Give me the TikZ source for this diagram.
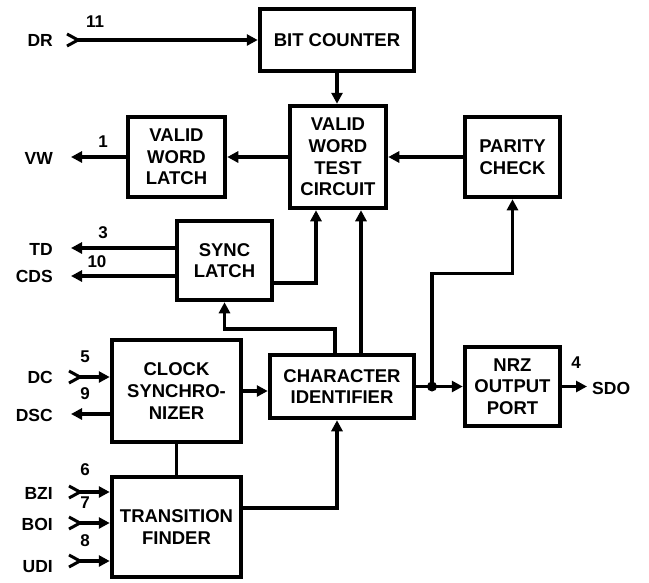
\documentclass[tikz,border=0pt]{standalone}
\usepackage{fontspec}
\setmainfont{Liberation Sans}
\usetikzlibrary{arrows.meta, positioning, calc}

\begin{document}
\begin{tikzpicture}[x=1pt, y=-1pt,
    block/.style={rectangle, draw, line width=4.5pt, font=\fontsize{18.5}{21.7}\selectfont\bfseries, align=center, inner sep=0pt},
    sig/.style={font=\fontsize{17.5}{17.5}\selectfont\bfseries, inner sep=0pt},
    pin/.style={font=\fontsize{17}{17}\selectfont\bfseries, inner sep=0pt},
    wire/.style={line width=3.5pt},
    arrow/.style={wire, -{Triangle[length=11pt, width=11pt]}},
    chev/.style={line width=3pt, line join=miter}
]
\useasboundingbox (0,0) rectangle (649,582);

% Blocks
\node[block, minimum width=154pt, minimum height=62pt] (bitcounter) at (337,40) {BIT COUNTER};
\node[block, minimum width=97pt, minimum height=80pt] (vwlatch) at (176.5,157) {VALID\\WORD\\LATCH};
\node[block, minimum width=96pt, minimum height=102pt] (vwtest) at (338,157) {VALID\\WORD\\TEST\\CIRCUIT};
\node[block, minimum width=95pt, minimum height=80pt] (parity) at (512.5,157) {PARITY\\CHECK};
\node[block, minimum width=95pt, minimum height=79pt] (sync) at (224.5,260.5) {SYNC\\LATCH};
\node[block, minimum width=144pt, minimum height=63pt] (charid) at (342,386.5) {CHARACTER\\IDENTIFIER};
\node[block, minimum width=95pt, minimum height=79pt] (nrz) at (512.5,386.5) {NRZ\\OUTPUT\\PORT};
\node[block, minimum width=129pt, minimum height=102pt] (clock) at (176.5,391) {CLOCK\\SYNCHRO-\\NIZER};
\node[block, minimum width=129pt, minimum height=100pt] (trans) at (176.5,527) {TRANSITION\\FINDER};

% Signal names
\node[sig, anchor=east] (dr) at (53,40) {DR};
\node[sig, anchor=east] (vw) at (53,158) {VW};
\node[sig, anchor=east] (td) at (53,249) {TD};
\node[sig, anchor=east] (cds) at (53,276) {CDS};
\node[sig, anchor=east] (dc) at (53,377) {DC};
\node[sig, anchor=east] (dsc) at (53,415) {DSC};
\node[sig, anchor=east] (bzi) at (53,493) {BZI};
\node[sig, anchor=east] (boi) at (53,524) {BOI};
\node[sig, anchor=east] (udi) at (53,567) {UDI};
\node[sig, anchor=west] (sdo) at (592,388) {SDO};

% Pin numbers
\node[pin] (p11) at (95,22) {11};
\node[pin] (p1) at (103,142) {1};
\node[pin] (p3) at (103,233) {3};
\node[pin] (p10) at (97,262) {10};
\node[pin] (p5) at (85,357) {5};
\node[pin] (p9) at (85,394) {9};
\node[pin] (p6) at (85,470) {6};
\node[pin] (p7) at (85,503) {7};
\node[pin] (p8) at (85,541) {8};
\node[pin] (p4) at (576,363) {4};

% Pin ends
\coordinate (drin) at (78,40);
\coordinate (dcin) at (80,377);
\coordinate (bziin) at (80,492);
\coordinate (boiin) at (80,523);
\coordinate (udiin) at (80,561);
\coordinate (vwout) at (71,157);
\coordinate (tdout) at (71,248);
\coordinate (cdsout) at (71,276);
\coordinate (dscout) at (71,414);
\coordinate (sdoout) at (587,386.5);
\coordinate (jn) at (432,386.5);

% Inputs
\foreach \c in {drin, dcin, bziin, boiin, udiin}
    \draw[chev] ($(\c)+(-11,-6)$) -- (\c) -- ($(\c)+(-11,6)$);
\draw[arrow] (drin) -- (bitcounter.west);
\draw[arrow] (dcin) -- (dcin -| clock.west);
\draw[arrow] (bziin) -- (bziin -| trans.west);
\draw[arrow] (boiin) -- (boiin -| trans.west);
\draw[arrow] (udiin) -- (udiin -| trans.west);

% Outputs
\draw[arrow] (vwlatch.west) -- (vwout);
\draw[arrow] (sync.west |- tdout) -- (tdout);
\draw[arrow] (sync.west |- cdsout) -- (cdsout);
\draw[arrow] (clock.west |- dscout) -- (dscout);
\draw[arrow] (nrz.east) -- (sdoout);

% Internal paths
\draw[arrow] (bitcounter.south) -- (bitcounter.south |- vwtest.north);
\draw[arrow] (vwtest.west) -- (vwlatch.east);
\draw[arrow] (parity.west) -- (vwtest.east);
\draw[arrow] ([yshift=-22.5pt]sync.east) -| ([xshift=-22pt]vwtest.south);
\draw[arrow] ([xshift=-7pt]charid.north) -- ++(0,-24) -| (sync.south);
\draw[arrow] ([xshift=19pt]charid.north) -- ([xshift=19pt]charid.north |- vwtest.south);
\draw[arrow] (clock.east) -- (clock.east -| charid.west);
\draw[arrow] (charid.east) -- (nrz.west);
\draw[arrow] (jn) -- ++(0,-113) -| (parity.south);
\fill (jn) circle (5pt);
\draw[wire] (clock.south) -- (trans.north);
\draw[arrow] ([yshift=19pt]trans.east) -| ([xshift=-5pt]charid.south);

\end{tikzpicture}
\end{document}
